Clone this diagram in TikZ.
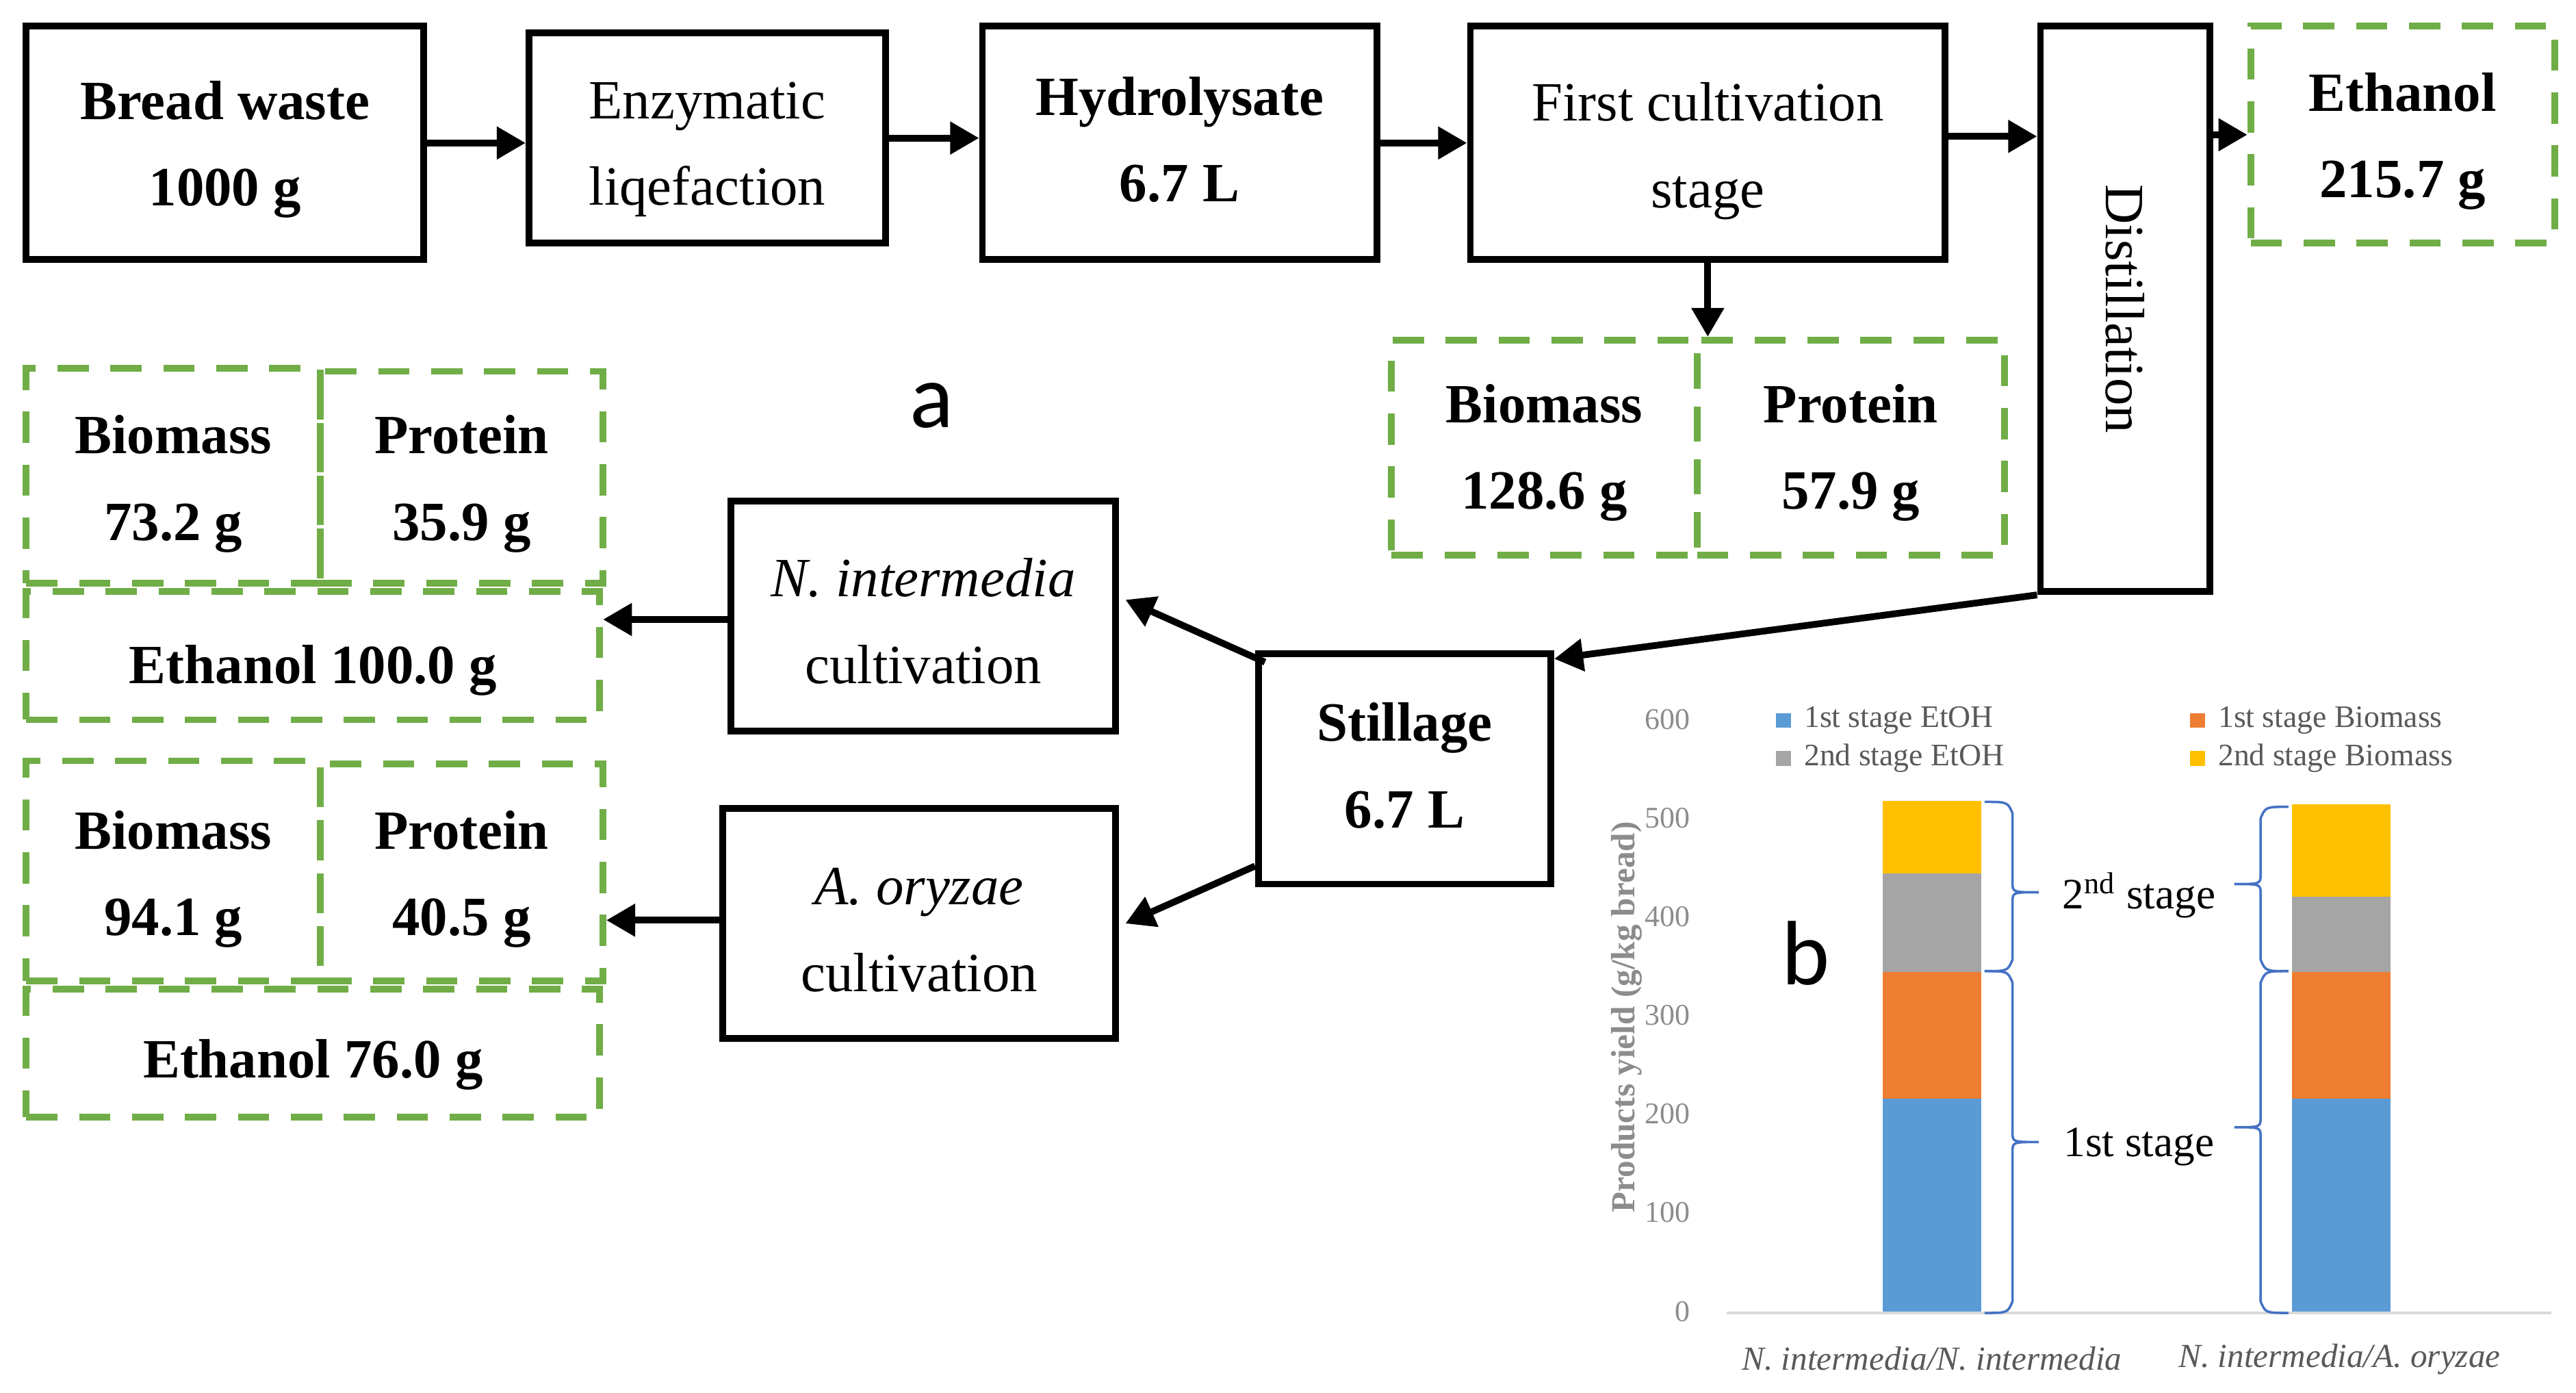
\documentclass[tikz,border=0pt]{standalone}
\usepackage{fontspec}
\setmainfont{Liberation Serif}
\newfontfamily\labfont{Carlito}
\usetikzlibrary{arrows.meta,fit,calc}
\definecolor{gr}{HTML}{70AD47}
\definecolor{cblue}{HTML}{5B9BD5}
\definecolor{corange}{HTML}{ED7D31}
\definecolor{cgray}{HTML}{A5A5A5}
\definecolor{cyellow}{HTML}{FFC000}
\definecolor{bracecol}{HTML}{4472C4}
\definecolor{txtgray}{HTML}{595959}
\definecolor{ticgray}{HTML}{8C8C8C}
\newcommand\mybrace[5]{%
  \draw[bracestyle] (#1,#3) .. controls ({#1+#2*14},#3) .. ({#1+#2*17},{#3+7}) -- ({#1+#2*17},{#4-6}) .. controls ({#1+#2*17},#4) .. ({#1+#2*33},#4) .. controls ({#1+#2*17},#4) .. ({#1+#2*17},{#4+6}) -- ({#1+#2*17},{#5-7}) .. controls ({#1+#2*14},#5) .. (#1,#5);}
\begin{document}
\begin{tikzpicture}[x=0.024005cm,y=-0.024005cm,
  blk/.style={draw,line width=2.8pt,inner sep=0pt},
  grn/.style={draw=gr,line width=2.8pt,dash pattern=on 13pt off 9pt,inner sep=0pt},
  rt/.style={align=center,inner sep=0pt,font=\fontsize{23}{36}\selectfont},
  bt/.style={align=center,inner sep=0pt,font=\fontsize{23}{36}\selectfont\bfseries},
  arr/.style={line width=2.8pt,-{Triangle[length=12pt,width=13pt]}},
  bracestyle/.style={draw=bracecol,line width=1pt},
  tick/.style={anchor=east,text=ticgray,font=\fontsize{12.5}{14}\selectfont},
  leg/.style={anchor=west,text=txtgray,font=\fontsize{13}{15}\selectfont},
]
\useasboundingbox (0,0) rectangle (1568,847.7);

% top row
\node[blk,fit={(16,16)(258,158)}] (bw) {};
\node[bt] (bwt) at ($(bw.center)+(0,4)$) {Bread waste\\1000 g};
\node[blk,fit={(322,20)(539,148)}] (enz) {};
\node[rt] (enzt) at ($(enz.center)+(0,7)$) {Enzymatic\\liqefaction};
\node[blk,fit={(598,16)(838,158)}] (hy) {};
\node[bt] (hyt) at ($(hy.center)+(0,-2)$) {Hydrolysate\\6.7 L};
\node[blk,fit={(895,16)(1184,158)}] (fc) {};
\node[rt] (fct) at ($(fc.center)+(0,5)$) {First cultivation\\stage};
\node[blk,fit={(1242,16)(1345,360)}] (di) {};
\node[rotate=-90,inner sep=0pt,font=\fontsize{23}{36}\selectfont] (dit) at (di.center) {Distillation};
\node[grn,fit={(1370,16)(1555,148)}] (et) {};
\node[bt] (ett) at ($(et.center)+(0,4)$) {Ethanol\\215.7 g};

% first stage products
\node[grn,fit={(847,207)(1033,338)}] (bm1) {};
\node[bt] (bm1t) at ($(bm1.center)+(0,3)$) {Biomass\\128.6 g};
\node[grn,fit={(1033,207)(1220,338)}] (pr1) {};
\node[bt] (pr1t) at ($(pr1.center)+(0,3)$) {Protein\\57.9 g};

\node[font=\labfont\fontsize{38}{40}\selectfont] (la) at (567,247) {a};

% second stage
\node[blk,fit={(766,398)(944,538)}] (st) {};
\node[bt] (stt) at ($(st.center)+(0,-2)$) {Stillage\\6.7 L};
\node[blk,fit={(445,305)(679,445)}] (ni) {};
\node[rt] (nit) at ($(ni.center)+(0,3)$) {\textit{N. intermedia}\\cultivation};
\node[blk,fit={(440,492)(679,632)}] (ao) {};
\node[rt] (aot) at ($(ao.center)+(0,4)$) {\textit{A. oryzae}\\cultivation};

\node[grn,fit={(16,224)(195,355)}] (bm2) {};
\node[bt] (bm2t) at ($(bm2.center)+(0,5)$) {Biomass\\73.2 g};
\node[grn,fit={(195,226)(367,355)}] (pr2) {};
\node[bt] (pr2t) at ($(pr2.center)+(0,4)$) {Protein\\35.9 g};
\node[grn,fit={(16,360)(365,438)}] (e100) {};
\node[bt] (e100t) at ($(e100.center)+(0,9)$) {Ethanol 100.0 g};
\node[grn,fit={(16,463)(195,597)}] (bm3) {};
\node[bt] (bm3t) at ($(bm3.center)+(0,5)$) {Biomass\\94.1 g};
\node[grn,fit={(195,465)(367,597)}] (pr3) {};
\node[bt] (pr3t) at ($(pr3.center)+(0,4)$) {Protein\\40.5 g};
\node[grn,fit={(16,602)(365,680)}] (e76) {};
\node[bt] (e76t) at ($(e76.center)+(0,7)$) {Ethanol 76.0 g};

% connectors
\draw[arr] (bw.east) -- (bw.east -| enz.west);
\draw[arr] (enz.east) -- (enz.east -| hy.west);
\draw[arr] (hy.east) -- (hy.east -| fc.west);
\draw[arr] ($(fc.east)+(0,-4)$) -- ($(fc.east -| di.west)+(0,-4)$);
\draw[arr] (et.west -| di.east) -- (et.west);
\draw[arr] (fc.south) -- (fc.south |- bm1.north);
\draw[arr] (di.south west) -- ($(st.north east)+(0,5)$);
\draw[arr] ($(st.north west)+(6,7)$) -- ($(ni.east)+(4,-10)$);
\draw[arr] ($(st.south west)+(0,-13)$) -- ($(ao.east)+(4,0)$);
\draw[arr] ($(ni.west)+(0,2)$) -- ($(ni.west -| e100.east)+(0,2)$);
\draw[arr] ($(ao.west)+(0,-2)$) -- ($(ao.west -| pr3.east)+(0,-2)$);

% chart b
\fill[cblue]   (1146,798) rectangle (1206,668.6);
\fill[corange] (1146,668.6) rectangle (1206,591.4);
\fill[cgray]   (1146,591.4) rectangle (1206,531.4);
\fill[cyellow] (1146,531.4) rectangle (1206,487.5);
\fill[cblue]   (1395,798) rectangle (1455,668.6);
\fill[corange] (1395,668.6) rectangle (1455,591.4);
\fill[cgray]   (1395,591.4) rectangle (1455,545.8);
\fill[cyellow] (1395,545.8) rectangle (1455,489.4);
\draw[draw=black!15,line width=1.2pt] (1051,799) -- (1553,799);

\foreach \v in {0,100,...,600} {\node[tick] at (1034,{798-0.6*\v}) {\v};}
\node[rotate=90,text=ticgray,font=\fontsize{14}{16}\selectfont\bfseries] (ytitle) at (990,619) {Products yield (g/kg bread)};

\fill[cblue] (1081,434) rectangle (1090,443);
\node[leg] (l1) at (1093,438.5) {1st stage EtOH};
\fill[cgray] (1081,457) rectangle (1090,466);
\node[leg] (l2) at (1093,461.5) {2nd stage EtOH};
\fill[corange] (1333,434) rectangle (1342,443);
\node[leg] (l3) at (1345,438.5) {1st stage Biomass};
\fill[cyellow] (1333,457) rectangle (1342,466);
\node[leg] (l4) at (1345,461.5) {2nd stage Biomass};

\mybrace{1208}{1}{488}{543}{591}
\mybrace{1208}{1}{591}{695}{799}
\mybrace{1393}{(-1)}{491}{538}{591}
\mybrace{1393}{(-1)}{591}{686}{799}

\node[font=\fontsize{18}{20}\selectfont] (s2) at (1302,545) {2\textsuperscript{nd} stage};
\node[font=\fontsize{18}{20}\selectfont] (s1) at (1302,698) {1st stage};
\node[font=\labfont\fontsize{38}{40}\selectfont] (lb) at (1099,580) {b};

\node[text=txtgray,font=\fontsize{14}{16}\selectfont\itshape] (x1) at (1176,827) {N. intermedia/N. intermedia};
\node[text=txtgray,font=\fontsize{14}{16}\selectfont\itshape] (x2) at (1424,827) {N. intermedia/A. oryzae};
\end{tikzpicture}
\end{document}
